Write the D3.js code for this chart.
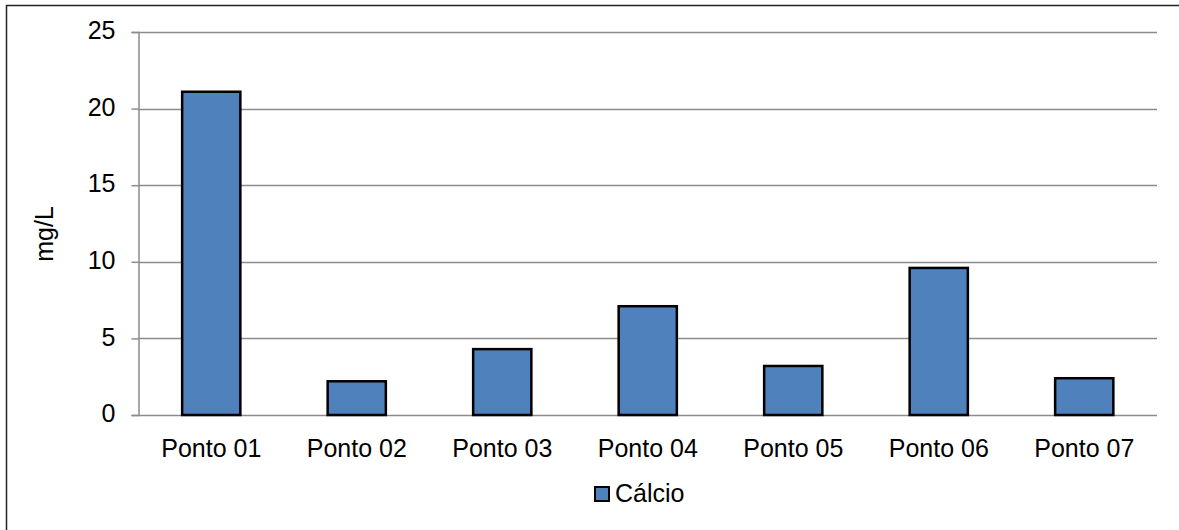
<!DOCTYPE html>
<html>
<head>
<meta charset="utf-8">
<script src="https://cdn.jsdelivr.net/npm/d3@7"></script>
<style>
  html, body { margin: 0; padding: 0; background: #fff; }
  svg { display: block; font-family: "Liberation Sans", Arial, sans-serif; }
</style>
</head>
<body>
<svg id="chart" width="1179" height="530"></svg>
<script>
// Calcium concentration per sampling point (mg/L)
const categories = ["Ponto 01", "Ponto 02", "Ponto 03", "Ponto 04", "Ponto 05", "Ponto 06", "Ponto 07"];
const calcio = [21.1, 2.2, 4.3, 7.1, 3.2, 9.6, 2.4];
const yTicks = [0, 5, 10, 15, 20, 25];
const seriesName = "Cálcio";
const yLabel = "mg/L";

const svg = d3.select("#chart");
const W = 1179, H = 530;
const plot = { left: 138.5, right: 1157, top: 32, bottom: 415 };
const FONT = "Liberation Sans, Arial, sans-serif";
const FS = 25;

// outer chart frame (runs past the right and bottom edges)
svg.append("rect")
  .attr("x", 6.5).attr("y", 5.5)
  .attr("width", W + 10).attr("height", H + 10)
  .attr("fill", "none").attr("stroke", "#222").attr("stroke-width", 1.5);

const x = d3.scaleBand().domain(categories).range([plot.left, plot.right])
  .paddingInner(0.6).paddingOuter(0.3);
const y = d3.scaleLinear().domain([0, 25]).range([plot.bottom, plot.top]);

// horizontal gridlines
svg.append("g").selectAll("line").data(yTicks.filter(d => d > 0)).join("line")
  .attr("x1", plot.left).attr("x2", plot.right)
  .attr("y1", d => Math.round(y(d)) + 0.5).attr("y2", d => Math.round(y(d)) + 0.5)
  .attr("stroke", "#8c8c8c").attr("stroke-width", 1.5);

// y axis
const yAxis = d3.axisLeft(y).tickValues(yTicks).tickSize(7).tickPadding(16).tickFormat(d3.format("d"));
const gy = svg.append("g").attr("transform", `translate(${plot.left},0)`).call(yAxis);
gy.select(".domain").attr("stroke", "#8c8c8c").attr("stroke-width", 1.5);
gy.selectAll(".tick line").attr("stroke", "#8c8c8c").attr("stroke-width", 1.5);
gy.selectAll(".tick text").attr("font-size", FS).attr("fill", "#000")
  .attr("font-family", FONT).attr("dy", "0.27em");

// x axis
const xAxis = d3.axisBottom(x).tickSize(0).tickPadding(24);
const gx = svg.append("g").attr("transform", `translate(0,${plot.bottom})`).call(xAxis);
gx.select(".domain").attr("d", `M${plot.left},0.5H${plot.right}`)
  .attr("stroke", "#8c8c8c").attr("stroke-width", 1.5);
gx.selectAll(".tick text").attr("font-size", FS).attr("fill", "#000")
  .attr("font-family", FONT);

// bars
svg.append("g").selectAll("rect").data(calcio).join("rect")
  .attr("x", (d, i) => x(categories[i]))
  .attr("y", d => y(d))
  .attr("width", x.bandwidth())
  .attr("height", d => y(0) - y(d))
  .attr("fill", "#4f81bd")
  .attr("stroke", "#000").attr("stroke-width", 2.5);

// y axis title
svg.append("text")
  .attr("transform", `translate(53,234) rotate(-90)`)
  .attr("text-anchor", "middle")
  .attr("font-size", FS).attr("font-family", FONT).attr("fill", "#000")
  .text(yLabel);

// legend
const lg = svg.append("g").attr("transform", "translate(595,487)");
lg.append("rect").attr("x", 0).attr("y", 0).attr("width", 14).attr("height", 14)
  .attr("fill", "#4f81bd").attr("stroke", "#000").attr("stroke-width", 2);
lg.append("text").attr("x", 20).attr("y", 14.5)
  .attr("font-size", FS).attr("font-family", FONT).attr("fill", "#000").text(seriesName);
</script>
</body>
</html>
